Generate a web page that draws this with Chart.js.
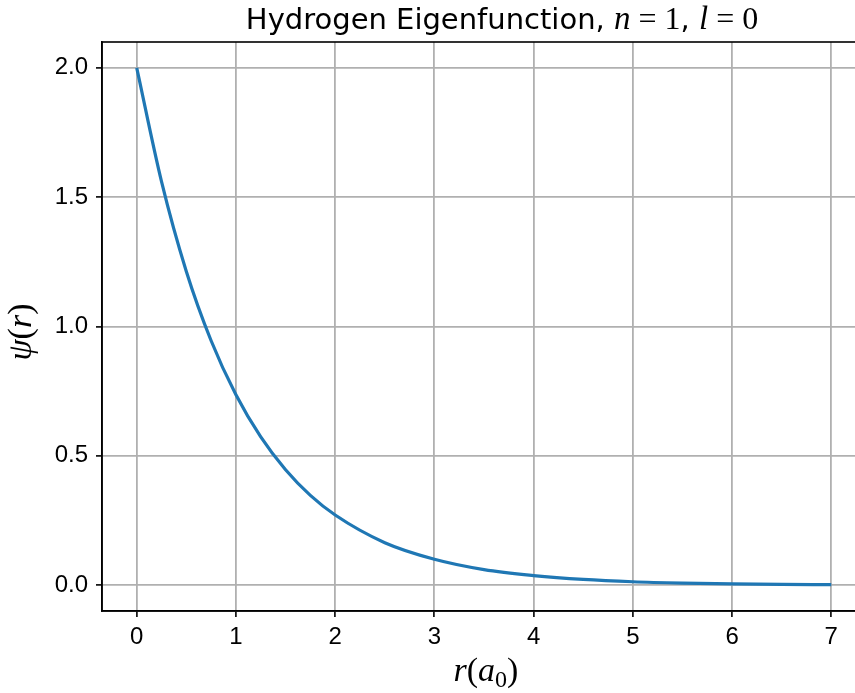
<!DOCTYPE html>
<html>
<head>
<meta charset="utf-8">
<script src="https://cdn.jsdelivr.net/npm/chart.js@4"></script>
<style>
  html, body { margin: 0; padding: 0; background: #fff; overflow: hidden; }
  #wrap { width: 855px; height: 693px; overflow: hidden; }
  canvas { display: block; }
</style>
</head>
<body>
<div id="wrap"><canvas id="chart" width="866" height="693"></canvas></div>
<script>
// values
const rValues = [0, 0.25, 0.5, 0.75, 1, 1.25, 1.5, 1.75, 2, 2.5, 3, 3.5, 4, 4.5, 5, 5.5, 6, 6.5, 7];
const psiValues = [2.0, 1.56, 1.213, 0.945, 0.736, 0.573, 0.446, 0.347, 0.271, 0.164, 0.10, 0.06, 0.037, 0.022, 0.013, 0.008, 0.005, 0.003, 0.002];
const xTicks = [0, 1, 2, 3, 4, 5, 6, 7];
const yTicks = [0, 0.5, 1.0, 1.5, 2.0];
const yTickLabels = ["0.0", "0.5", "1.0", "1.5", "2.0"];

const SANS = "'DejaVu Sans'";
const SERIF = "'Liberation Serif', 'DejaVu Serif'";

// draw a line of mixed-font text, centred on x
function drawRich(ctx, segs, x, y) {
  let total = 0;
  segs.forEach(s => { ctx.font = s.font; s.w = ctx.measureText(s.text).width; total += s.w; });
  let cx = x - total / 2;
  ctx.textAlign = "left";
  ctx.textBaseline = "alphabetic";
  ctx.fillStyle = "#000";
  segs.forEach(s => {
    ctx.font = s.font;
    ctx.fillText(s.text, cx, y + (s.dy || 0));
    cx += s.w;
  });
}

const textPlugin = {
  id: "richText",
  afterDraw(chart) {
    const ctx = chart.ctx;
    const a = chart.chartArea;
    ctx.save();
    // top / right spines
    ctx.strokeStyle = "#000";
    ctx.lineWidth = 1.6;
    ctx.strokeRect(a.left, a.top, a.right - a.left, a.bottom - a.top);

    // title
    drawRich(ctx, [
      { text: "Hydrogen Eigenfunction, ", font: "29px " + SANS },
      { text: "n", font: "italic 33px " + SERIF },
      { text: " = 1", font: "32px " + SERIF },
      { text: ", ", font: "29px " + SANS },
      { text: "l", font: "italic 33px " + SERIF },
      { text: " = 0", font: "32px " + SERIF }
    ], 502, 29);

    // x axis label
    drawRich(ctx, [
      { text: "r", font: "italic 34px " + SERIF },
      { text: "(", font: "34px " + SERIF },
      { text: "a", font: "italic 34px " + SERIF },
      { text: "0", font: "24px " + SERIF, dy: 6 },
      { text: ")", font: "34px " + SERIF }
    ], 486, 681);

    // y axis label, rotated
    ctx.translate(31, 332);
    ctx.rotate(-Math.PI / 2);
    drawRich(ctx, [
      { text: "ψ", font: "italic 34px " + SERIF },
      { text: "(", font: "34px " + SERIF },
      { text: "r", font: "italic 34px " + SERIF },
      { text: ")", font: "34px " + SERIF }
    ], 0, 0);
    ctx.restore();
  }
};

const points = rValues.map((r, i) => ({ x: r, y: psiValues[i] }));

new Chart(document.getElementById("chart"), {
  type: "line",
  data: {
    datasets: [{
      data: points,
      borderColor: "#1f77b4",
      borderWidth: 3.2,
      pointRadius: 0,
      fill: false,
      cubicInterpolationMode: "monotone"
    }]
  },
  options: {
    responsive: false,
    animation: false,
    layout: { padding: { top: 42, left: 0, right: 0, bottom: 0 } },
    plugins: { legend: { display: false }, tooltip: { enabled: false } },
    scales: {
      x: {
        type: "linear",
        min: -0.35,
        max: 7.35,
        afterBuildTicks: s => { s.ticks = xTicks.map(v => ({ value: v })); },
        afterFit: s => { s.height = 82; },
        ticks: {
          color: "#000",
          font: { family: "'Liberation Sans'", size: 24 },
          padding: 6,
          maxRotation: 0,
          callback: v => String(v)
        },
        grid: { color: "#b0b0b0", lineWidth: 1.8, tickColor: "#000", tickLength: 6, tickWidth: 1.6 },
        border: { color: "#000", width: 1.6 }
      },
      y: {
        type: "linear",
        min: -0.1,
        max: 2.1,
        afterBuildTicks: s => { s.ticks = yTicks.map(v => ({ value: v })); },
        afterFit: s => { s.width = 102; },
        ticks: {
          color: "#000",
          font: { family: "'Liberation Sans'", size: 24 },
          padding: 8,
          callback: v => yTickLabels[yTicks.indexOf(v)]
        },
        grid: { color: "#b0b0b0", lineWidth: 1.8, tickColor: "#000", tickLength: 6, tickWidth: 1.6 },
        border: { color: "#000", width: 1.6 }
      }
    }
  },
  plugins: [textPlugin]
});
</script>
</body>
</html>
